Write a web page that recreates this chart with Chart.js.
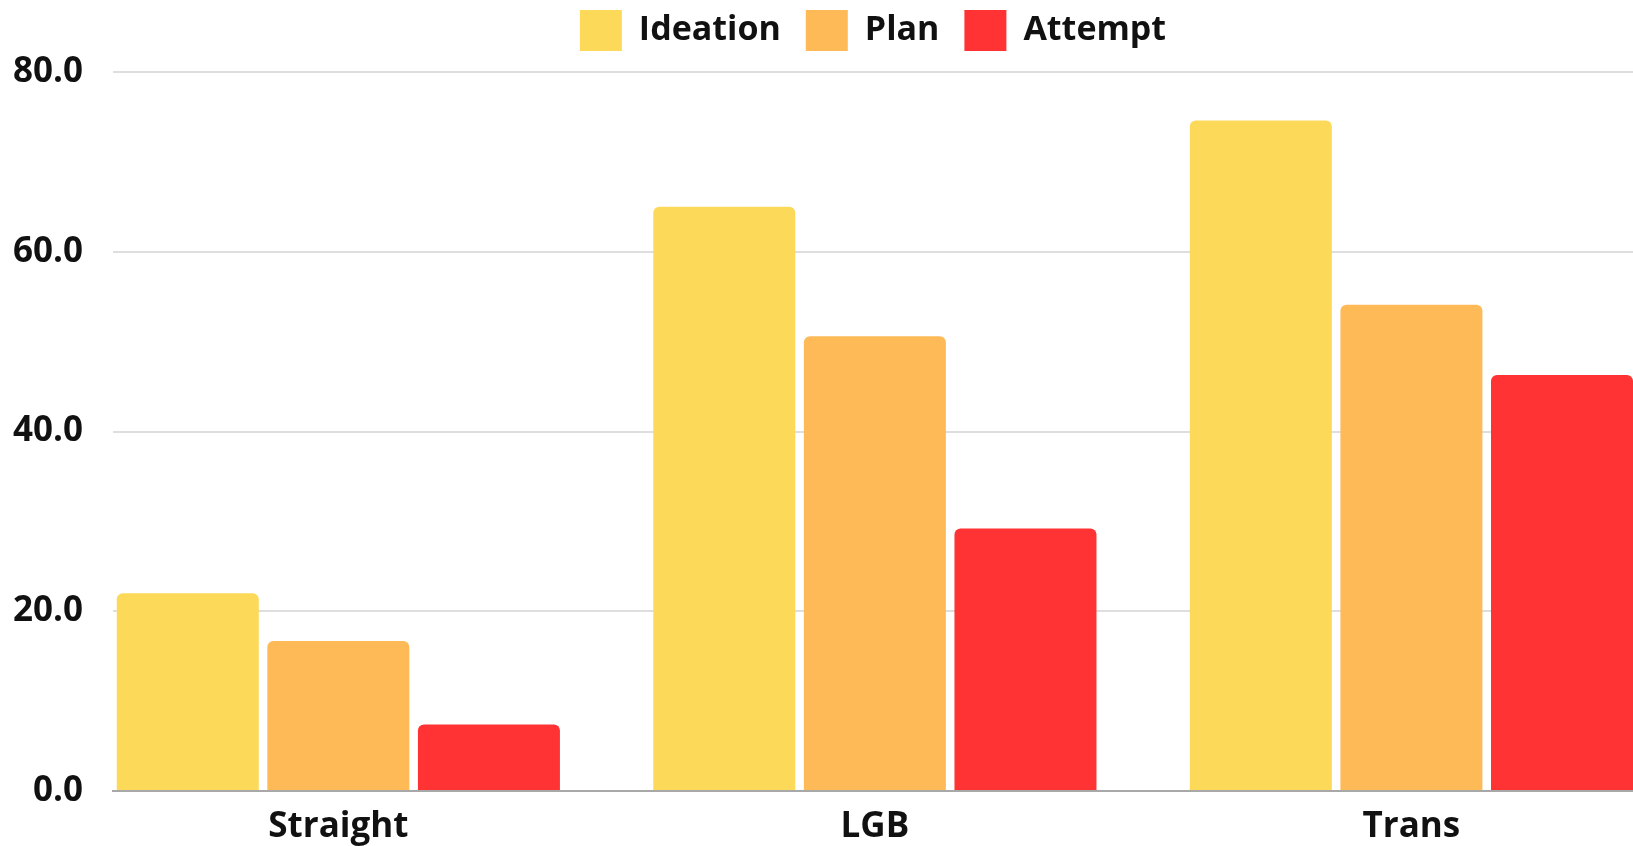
<!DOCTYPE html>
<html>
<head>
<meta charset="utf-8">
<title>Ideation, plan and attempt</title>
<script src="https://cdn.jsdelivr.net/npm/chart.js@4.4.1/dist/chart.umd.min.js"></script>
<style>
  html, body { margin: 0; padding: 0; background: #fff; }
  .chart-box { position: relative; width: 1633px; height: 846px; }
</style>
</head>
<body>
<div class="chart-box"><canvas id="groupChart"></canvas></div>
<script>
  "use strict";

  // values
  const categories = ["Straight", "LGB", "Trans"];
  const ideation = [22.0, 65.0, 74.6];
  const plan = [16.7, 50.6, 54.1];
  const attempt = [7.4, 29.2, 46.3];
  const yTicks = [0, 20, 40, 60, 80];

  Chart.defaults.font.family = "'Open Sans', sans-serif";
  Chart.defaults.font.size = 35;
  Chart.defaults.font.weight = "bold";
  Chart.defaults.color = "#111";

  // push the plot a little further below the legend
  const legendGap = {
    id: "legendGap",
    beforeInit: function (chart) {
      const fit = chart.legend.fit;
      chart.legend.fit = function () {
        fit.bind(chart.legend)();
        this.height += 11;
      };
    }
  };

  const bar = function (label, data, color) {
    return {
      label: label,
      data: data,
      backgroundColor: color,
      borderRadius: 6,
      borderSkipped: "bottom",
      barPercentage: 0.943,
      categoryPercentage: 0.842
    };
  };

  new Chart(document.getElementById("groupChart"), {
    type: "bar",
    data: {
      labels: categories,
      datasets: [
        bar("Ideation", ideation, "#fdd95a"),
        bar("Plan", plan, "#fdba57"),
        bar("Attempt", attempt, "#ff3333")
      ]
    },
    plugins: [legendGap],
    options: {
      responsive: true,
      maintainAspectRatio: false,
      animation: false,
      layout: { padding: { top: -15, left: 0, right: 0, bottom: 0 } },
      plugins: {
        legend: {
          position: "top",
          fullSize: false,
          labels: { boxWidth: 42, boxHeight: 41, padding: 25, font: { size: 34 } }
        },
        tooltip: { enabled: false }
      },
      scales: {
        x: {
          grid: { display: false },
          border: { display: true, color: "#a8a8a8", width: 2 },
          ticks: { padding: 7 },
          afterFit: function (scale) { scale.height = 55; },
          afterBuildTicks: function (scale) {
            // outer groups sit flush with the plot edges in the original
            scale._startValue = -0.42;
            scale._valueRange = 2.833;
          }
        },
        y: {
          min: yTicks[0],
          max: yTicks[yTicks.length - 1],
          grid: { color: "#dedede", lineWidth: 2, drawTicks: false },
          border: { display: false },
          ticks: {
            stepSize: yTicks[1] - yTicks[0],
            padding: 30,
            callback: function (v) { return v.toFixed(1); }
          },
          afterFit: function (scale) { scale.width = 113; }
        }
      }
    }
  });
</script>
</body>
</html>
